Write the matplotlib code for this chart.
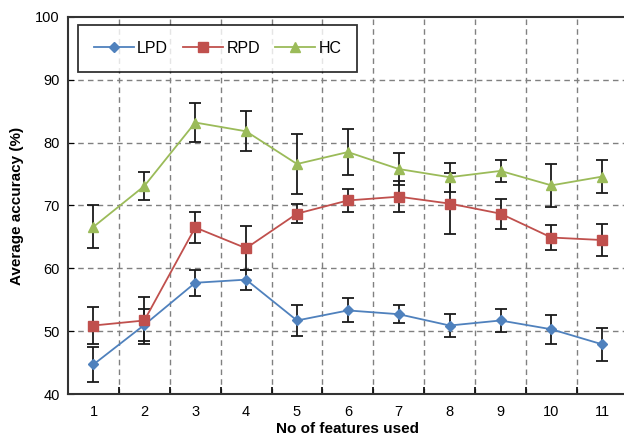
import matplotlib
matplotlib.use('Agg')
from matplotlib import pyplot as plt

plt.rcParams['font.family'] = ['Liberation Sans', 'DejaVu Sans']

# Dados
n_features = [1, 2, 3, 4, 5, 6, 7, 8, 9, 10, 11]

lpd = [44.7, 51.0, 57.7, 58.2, 51.7, 53.3, 52.7, 50.9, 51.7, 50.3, 47.9]
lpd_err = [2.8, 2.5, 2.1, 1.6, 2.5, 1.9, 1.4, 1.9, 1.9, 2.3, 2.6]

rpd = [50.9, 51.7, 66.5, 63.2, 68.7, 70.8, 71.4, 70.3, 68.7, 64.9, 64.5]
rpd_err = [3.0, 3.7, 2.4, 3.5, 1.5, 1.9, 2.5, 4.8, 2.4, 2.0, 2.6]

hc = [66.6, 73.1, 83.2, 81.8, 76.6, 78.5, 75.8, 74.5, 75.5, 73.2, 74.6]
hc_err = [3.4, 2.3, 3.1, 3.2, 4.7, 3.7, 2.5, 2.3, 1.8, 3.4, 2.6]

fig = plt.figure(figsize=(6.24, 4.4), dpi=100)
ax = fig.add_axes([0.109, 0.1045, 0.897, 0.857])

series = [
    (lpd, lpd_err, 'LPD', '#4F81BD', 'D', 5.5),
    (rpd, rpd_err, 'RPD', '#C0504D', 's', 7),
    (hc, hc_err, 'HC', '#9BBB59', '^', 7.5),
]
for vals, errs, name, cor, mk, ms in series:
    ax.errorbar(n_features, vals, yerr=errs, fmt='none', ecolor='#1a1a1a',
                elinewidth=1.3, capsize=4, capthick=1.3, zorder=3)
    ax.plot(n_features, vals, color=cor, marker=mk, markersize=ms,
            linewidth=1.3, label=name, zorder=4)

ax.set_xlim(0.5, 11.5)
ax.set_ylim(40, 100)
ax.set_yticks([40, 50, 60, 70, 80, 90, 100])
ax.set_xticks(n_features)
ax.set_xticks([i + 0.5 for i in n_features[:-1]], minor=True)
ax.tick_params(axis='x', which='major', length=0, labelsize=10.5, pad=8)
ax.tick_params(axis='x', which='minor', direction='in', length=5, width=1.2)
ax.tick_params(axis='y', direction='in', length=4, labelsize=10.5, pad=6)

# grade tracejada
for y in [50, 60, 70, 80, 90]:
    ax.axhline(y, color='#808080', linestyle=(0, (4, 3)), linewidth=1.0, zorder=1)
for x in [i + 0.5 for i in n_features[:-1]]:
    ax.axvline(x, color='#808080', linestyle=(0, (4, 3)), linewidth=1.0, zorder=1)

for s in ax.spines.values():
    s.set_color('#333333')
    s.set_linewidth(1.5)

ax.set_xlabel('No of features used', fontsize=11, fontweight='bold', labelpad=2)
ax.set_ylabel('Average accuracy (%)', fontsize=11, fontweight='bold', labelpad=8)

leg = ax.legend(loc='upper left', ncol=3, bbox_to_anchor=(0.018, 0.979),
                borderaxespad=0, frameon=True, fancybox=False,
                edgecolor='black', fontsize=11.5, handlelength=2.5,
                columnspacing=0.95, borderpad=1.0, handletextpad=0.2)
leg.get_frame().set_linewidth(1.3)
leg.set_zorder(5)

fig.savefig('out.png', dpi=100)
